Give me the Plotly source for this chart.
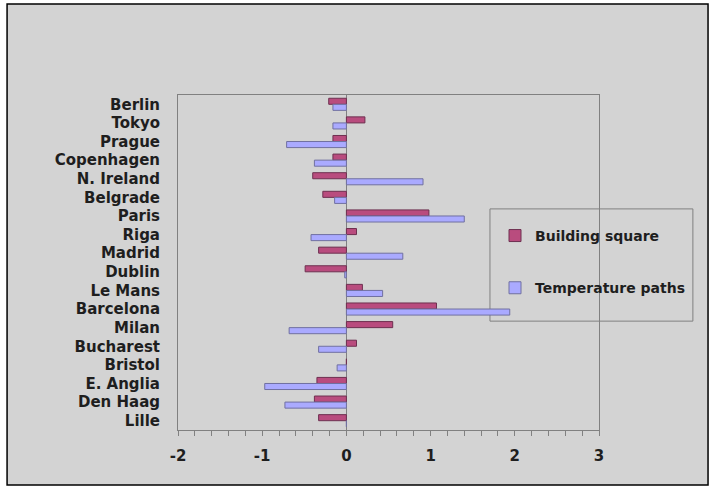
import plotly.graph_objects as go

categories = ["Berlin", "Tokyo", "Prague", "Copenhagen", "N. Ireland", "Belgrade",
              "Paris", "Riga", "Madrid", "Dublin", "Le Mans", "Barcelona", "Milan",
              "Bucharest", "Bristol", "E. Anglia", "Den Haag", "Lille"]
building_square = [-0.21, 0.22, -0.16, -0.16, -0.40, -0.28, 0.98, 0.12, -0.33, -0.49,
                   0.19, 1.07, 0.55, 0.12, 0.0, -0.35, -0.38, -0.33]
temperature_paths = [-0.16, -0.16, -0.71, -0.38, 0.91, -0.14, 1.40, -0.42, 0.67, -0.02,
                     0.43, 1.94, -0.68, -0.33, -0.11, -0.97, -0.73, 0.0]
series_names = ["Building square", "Temperature paths"]
x_ticks = [-2, -1, 0, 1, 2, 3]

GRAY = "#d3d3d3"

fig = go.Figure()
fig.add_trace(go.Bar(y=categories, x=building_square, orientation="h", name=series_names[0],
                     legendgroup="a",
                     marker=dict(color="#b94c7e", line=dict(color="#6e3050", width=1))))
fig.add_trace(go.Bar(y=categories, x=temperature_paths, orientation="h", name=series_names[1],
                     legendgroup="b",
                     marker=dict(color="#aaaaff", line=dict(color="#7070a0", width=1))))

fig.update_layout(
    width=715, height=493,
    margin=dict(l=178, r=116, t=95, b=63),
    paper_bgcolor="white", plot_bgcolor="rgba(0,0,0,0)",
    barmode="group", bargap=0.35, bargroupgap=0,
    font=dict(family="DejaVu Sans", size=15, color="#1e1e1e"),
    showlegend=True,
    legend=dict(x=0.753, y=0.627, xanchor="left", yanchor="top",
                bgcolor="rgba(0,0,0,0)", borderwidth=0,
                font=dict(family="DejaVu Sans", size=14, color="#1e1e1e", weight="bold"),
                traceorder="grouped", tracegroupgap=31),
    shapes=[
        dict(type="rect", xref="paper", yref="paper", x0=-0.406, x1=1.259, y0=-0.164, y1=1.272,
             line=dict(color="black", width=1.5), fillcolor=GRAY, layer="below"),
        dict(type="rect", xref="paper", yref="paper", x0=0.741, x1=1.223, y0=0.325, y1=0.660,
             line=dict(color="#808080", width=1), fillcolor=GRAY, layer="below"),
    ],
    xaxis=dict(range=[-2, 3], tickvals=x_ticks, ticktext=[str(v) for v in x_ticks],
               showgrid=False, zeroline=True, zerolinecolor="#808080", zerolinewidth=1,
               showline=True, linecolor="#808080", linewidth=1, mirror=True,
               ticks="outside", ticklen=5, tickcolor="#808080",
               minor=dict(dtick=0.2, ticks="outside", ticklen=5, tickcolor="#808080"),
               tickfont=dict(family="DejaVu Sans", size=15, color="#1e1e1e", weight="bold"),
               ticklabelstandoff=7),
    yaxis=dict(autorange="reversed", showgrid=False, showline=True, linecolor="#808080",
               linewidth=1, mirror=True, ticks="",
               tickfont=dict(family="DejaVu Sans", size=15, color="#1e1e1e", weight="bold"),
               ticklabelstandoff=14),
)

fig.write_html("out.html", config={"displayModeBar": False},
               post_script="document.body.style.margin='0px';")
